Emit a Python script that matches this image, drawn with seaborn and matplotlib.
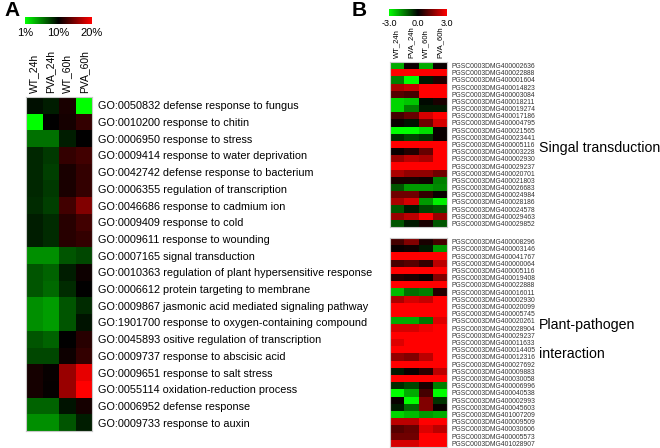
import numpy as np
import pandas as pd
import matplotlib
matplotlib.use("Agg")
import matplotlib.pyplot as plt
import seaborn as sns
from matplotlib.colors import LinearSegmentedColormap, TwoSlopeNorm, Normalize
from matplotlib.cm import ScalarMappable

sns.set_theme(style="white")
plt.rcParams['font.family'] = ['Liberation Sans', 'DejaVu Sans']
plt.rcParams['text.color'] = 'black'
plt.rcParams['xtick.color'] = 'black'
plt.rcParams['ytick.color'] = 'black'

# ---------------- data ----------------
samples = ["WT_24h", "PVA_24h", "WT_60h", "PVA_60h"]

go_terms = [
    "GO:0050832 defense response to fungus",
    "GO:0010200 response to chitin",
    "GO:0006950 response to stress",
    "GO:0009414 response to water deprivation",
    "GO:0042742 defense response to bacterium",
    "GO:0006355 regulation of transcription",
    "GO:0046686 response to cadmium ion",
    "GO:0009409 response to cold",
    "GO:0009611 response to wounding",
    "GO:0007165 signal transduction",
    "GO:0010363 regulation of plant hypersensitive response",
    "GO:0006612 protein targeting to membrane",
    "GO:0009867 jasmonic acid mediated signaling pathway",
    "GO:1901700 response to oxygen-containing compound",
    "GO:0045893 ositive regulation of transcription",
    "GO:0009737 response to abscisic acid",
    "GO:0009651 response to salt stress",
    "GO:0055114 oxidation-reduction process",
    "GO:0006952 defense response",
    "GO:0009733 response to auxin",
]

# percentage of genes per GO term (1% .. 20%)
pct_wt24 = [9.5, 1.0, 6.0, 8.6, 8.6, 8.6, 8.5, 9.0, 9.0, 5.0, 7.0, 7.0, 5.0, 5.0, 7.0, 7.5, 10.8, 10.8, 6.5, 5.0]
pct_pva24 = [9.0, 10.0, 6.0, 8.0, 7.8, 8.0, 7.8, 8.5, 8.5, 5.0, 6.5, 6.3, 4.5, 4.5, 6.5, 7.5, 10.3, 10.2, 6.5, 5.0]
pct_wt60 = [11.0, 10.8, 9.0, 12.0, 11.0, 11.0, 12.5, 11.5, 11.5, 7.0, 9.0, 8.5, 7.0, 7.0, 10.0, 10.5, 16.0, 16.0, 9.3, 7.0]
pct_pva60 = [1.0, 12.0, 10.0, 12.5, 12.0, 12.0, 15.0, 12.5, 12.0, 7.5, 10.5, 10.0, 8.5, 9.3, 11.5, 12.0, 19.0, 20.0, 10.8, 9.0]

signal_genes = [
    "PGSC0003DMG400002636", "PGSC0003DMG400022888", "PGSC0003DMG400001604",
    "PGSC0003DMG400014823", "PGSC0003DMG400003084", "PGSC0003DMG400018211",
    "PGSC0003DMG400019274", "PGSC0003DMG400017186", "PGSC0003DMG400004795",
    "PGSC0003DMG400021565", "PGSC0003DMG400023441", "PGSC0003DMG400005116",
    "PGSC0003DMG400003228", "PGSC0003DMG400002930", "PGSC0003DMG400029237",
    "PGSC0003DMG400020701", "PGSC0003DMG400021803", "PGSC0003DMG400026683",
    "PGSC0003DMG400024984", "PGSC0003DMG400028186", "PGSC0003DMG400024578",
    "PGSC0003DMG400029463", "PGSC0003DMG400029852",
]
signal_values = [
    [-2.0, 0.1, -2.0, 0.1],
    [3.0, 3.0, 3.0, 3.0],
    [-1.5, -3.0, -0.3, 0.4],
    [2.0, 2.3, 3.0, 3.0],
    [1.0, 0.8, 3.0, 3.0],
    [-2.5, -2.3, -0.1, 0.3],
    [-2.5, -1.5, -0.3, -0.3],
    [0.8, 1.2, 2.5, 3.0],
    [0.1, -0.2, 1.3, 2.5],
    [-3.0, -3.0, -2.6, 0.1],
    [-0.5, -0.8, -0.6, 0.1],
    [3.0, 3.0, 3.0, 3.0],
    [0.1, 0.4, 1.2, 3.0],
    [1.8, 2.2, 2.0, 3.0],
    [3.0, 3.0, 3.0, 3.0],
    [2.0, 1.7, 1.7, 1.3],
    [0.3, 0.3, 0.2, -1.5],
    [-1.0, -1.8, -1.8, -1.6],
    [1.3, 1.3, 0.6, 0.1],
    [2.0, 2.5, -1.8, -2.8],
    [-1.0, -0.3, -0.8, -1.0],
    [1.8, 2.2, 3.0, 1.8],
    [-1.0, -0.3, 0.3, -1.0],
]

pathogen_genes = [
    "PGSC0003DMG400008296", "PGSC0003DMG400003146", "PGSC0003DMG400041767",
    "PGSC0003DMG400000064", "PGSC0003DMG400005116", "PGSC0003DMG400019408",
    "PGSC0003DMG400022888", "PGSC0003DMG400016011", "PGSC0003DMG400002930",
    "PGSC0003DMG400020099", "PGSC0003DMG400005745", "PGSC0003DMG400020261",
    "PGSC0003DMG400028904", "PGSC0003DMG400029237", "PGSC0003DMG400011633",
    "PGSC0003DMG400014405", "PGSC0003DMG400012316", "PGSC0003DMG400027692",
    "PGSC0003DMG400009883", "PGSC0003DMG400030058", "PGSC0003DMG400006996",
    "PGSC0003DMG400040538", "PGSC0003DMG400002993", "PGSC0003DMG400045603",
    "PGSC0003DMG401007209", "PGSC0003DMG400009509", "PGSC0003DMG400030606",
    "PGSC0003DMG400005573", "PGSC0003DMG401028907",
]
pathogen_values = [
    [0.8, 1.5, 0.3, 0.8],
    [0.1, 0.2, -0.3, -1.8],
    [3.0, 3.0, 3.0, 3.0],
    [0.8, 1.0, 0.6, 2.2],
    [3.0, 3.0, 3.0, 3.0],
    [0.4, 0.3, 0.1, 1.5],
    [3.0, 3.0, 3.0, 3.0],
    [-2.2, -1.3, -1.5, 0.4],
    [2.0, 2.5, 2.3, 3.0],
    [3.0, 3.0, 3.0, 3.0],
    [3.0, 3.0, 3.0, 3.0],
    [-2.0, -2.0, -1.4, 2.6],
    [2.5, 2.5, 2.8, 3.0],
    [3.0, 3.0, 3.0, 3.0],
    [2.6, 3.0, 3.0, 3.0],
    [3.0, 3.0, 3.0, 3.0],
    [1.7, 1.5, 2.2, 3.0],
    [3.0, 3.0, 3.0, 3.0],
    [-0.3, 0.1, 0.5, 2.2],
    [3.0, 3.0, 3.0, 3.0],
    [-0.5, -0.8, 0.3, -1.5],
    [-3.0, -2.0, 0.8, -3.0],
    [0.1, -3.0, 1.5, -0.6],
    [-0.3, -1.2, 1.5, 0.1],
    [-2.5, -2.2, -1.8, -2.0],
    [2.2, 2.2, 3.0, 3.0],
    [1.0, 1.2, 2.6, 2.2],
    [1.3, 1.3, 3.0, 3.0],
    [2.5, 2.5, 3.0, 3.0],
]

# ---------------- figure ----------------
W, H = 660, 448
fig = plt.figure(figsize=(W / 100, H / 100), dpi=100)
fig.patch.set_facecolor("white")

def rect(x0, y0, x1, y1):
    return [x0 / W, 1 - y1 / H, (x1 - x0) / W, (y1 - y0) / H]

cmap = LinearSegmentedColormap.from_list("gkr", ["#00FF00", "#000000", "#FF0000"])
border = "#c8c8c8"

def style_spines(ax):
    for s in ax.spines.values():
        s.set_visible(True)
        s.set_color(border)
        s.set_linewidth(0.8)

# ---- Panel A ----
dfA = pd.DataFrame({samples[0]: pct_wt24, samples[1]: pct_pva24,
                    samples[2]: pct_wt60, samples[3]: pct_pva60}, index=go_terms)
normA = TwoSlopeNorm(vmin=1, vcenter=10, vmax=20)
axA = fig.add_axes(rect(26, 97, 92, 431))
sns.heatmap(dfA, ax=axA, cmap=cmap, norm=normA, cbar=False,
            xticklabels=True, yticklabels=True)
axA.xaxis.tick_top()
axA.yaxis.tick_right()
axA.tick_params(axis="x", length=0, pad=3, labelsize=7.5, rotation=90)
axA.tick_params(axis="y", length=0, pad=4, labelsize=7.8, rotation=0)
for t in axA.get_xticklabels():
    t.set_va("bottom")
style_spines(axA)

caxA = fig.add_axes(rect(25, 17, 92, 24))
cbA = fig.colorbar(ScalarMappable(norm=normA, cmap=cmap), cax=caxA, orientation="horizontal")
cbA.set_ticks([1, 10, 20])
cbA.set_ticklabels(["1%", "10%", "20%"])
cbA.outline.set_visible(False)
caxA.tick_params(length=0, pad=3, labelsize=8)

fig.text(4 / W, 1 - 11 / H, "A", fontsize=15, fontweight="bold", va="center", ha="left")

# ---- Panel B ----
normB = Normalize(vmin=-3, vmax=3)
dfB1 = pd.DataFrame(signal_values, index=signal_genes, columns=samples)
dfB2 = pd.DataFrame(pathogen_values, index=pathogen_genes, columns=samples)

axB1 = fig.add_axes(rect(390, 62, 447, 227))
sns.heatmap(dfB1, ax=axB1, cmap=cmap, norm=normB, cbar=False,
            xticklabels=True, yticklabels=True)
axB1.xaxis.tick_top()
axB1.yaxis.tick_right()
axB1.tick_params(axis="x", length=0, pad=3, labelsize=5.5, rotation=90)
axB1.tick_params(axis="y", length=0, pad=3, labelsize=4.85, rotation=0)
for t in axB1.get_yticklabels():
    t.set_color("#333333")
style_spines(axB1)

axB2 = fig.add_axes(rect(390, 238, 447, 447))
sns.heatmap(dfB2, ax=axB2, cmap=cmap, norm=normB, cbar=False,
            xticklabels=False, yticklabels=True)
axB2.yaxis.tick_right()
axB2.tick_params(axis="y", length=0, pad=3, labelsize=4.85, rotation=0)
for t in axB2.get_yticklabels():
    t.set_color("#333333")
style_spines(axB2)

caxB = fig.add_axes(rect(389, 9, 447, 16.5))
cbB = fig.colorbar(ScalarMappable(norm=normB, cmap=cmap), cax=caxB, orientation="horizontal")
cbB.set_ticks([-3, 0, 3])
cbB.set_ticklabels(["-3.0", "0.0", "3.0"])
cbB.outline.set_visible(False)
caxB.tick_params(length=0, pad=2, labelsize=6.5)

fig.text(352 / W, 1 - 11 / H, "B", fontsize=15, fontweight="bold", va="center", ha="left")

fig.text(539 / W, 1 - 148 / H, "Singal transduction", fontsize=10.2, va="center", ha="left")
fig.text(539 / W, 1 - 325 / H, "Plant-pathogen", fontsize=10.2, va="center", ha="left")
fig.text(539 / W, 1 - 354 / H, "interaction", fontsize=10.2, va="center", ha="left")

fig.savefig("out.png", dpi=100, facecolor="white")
